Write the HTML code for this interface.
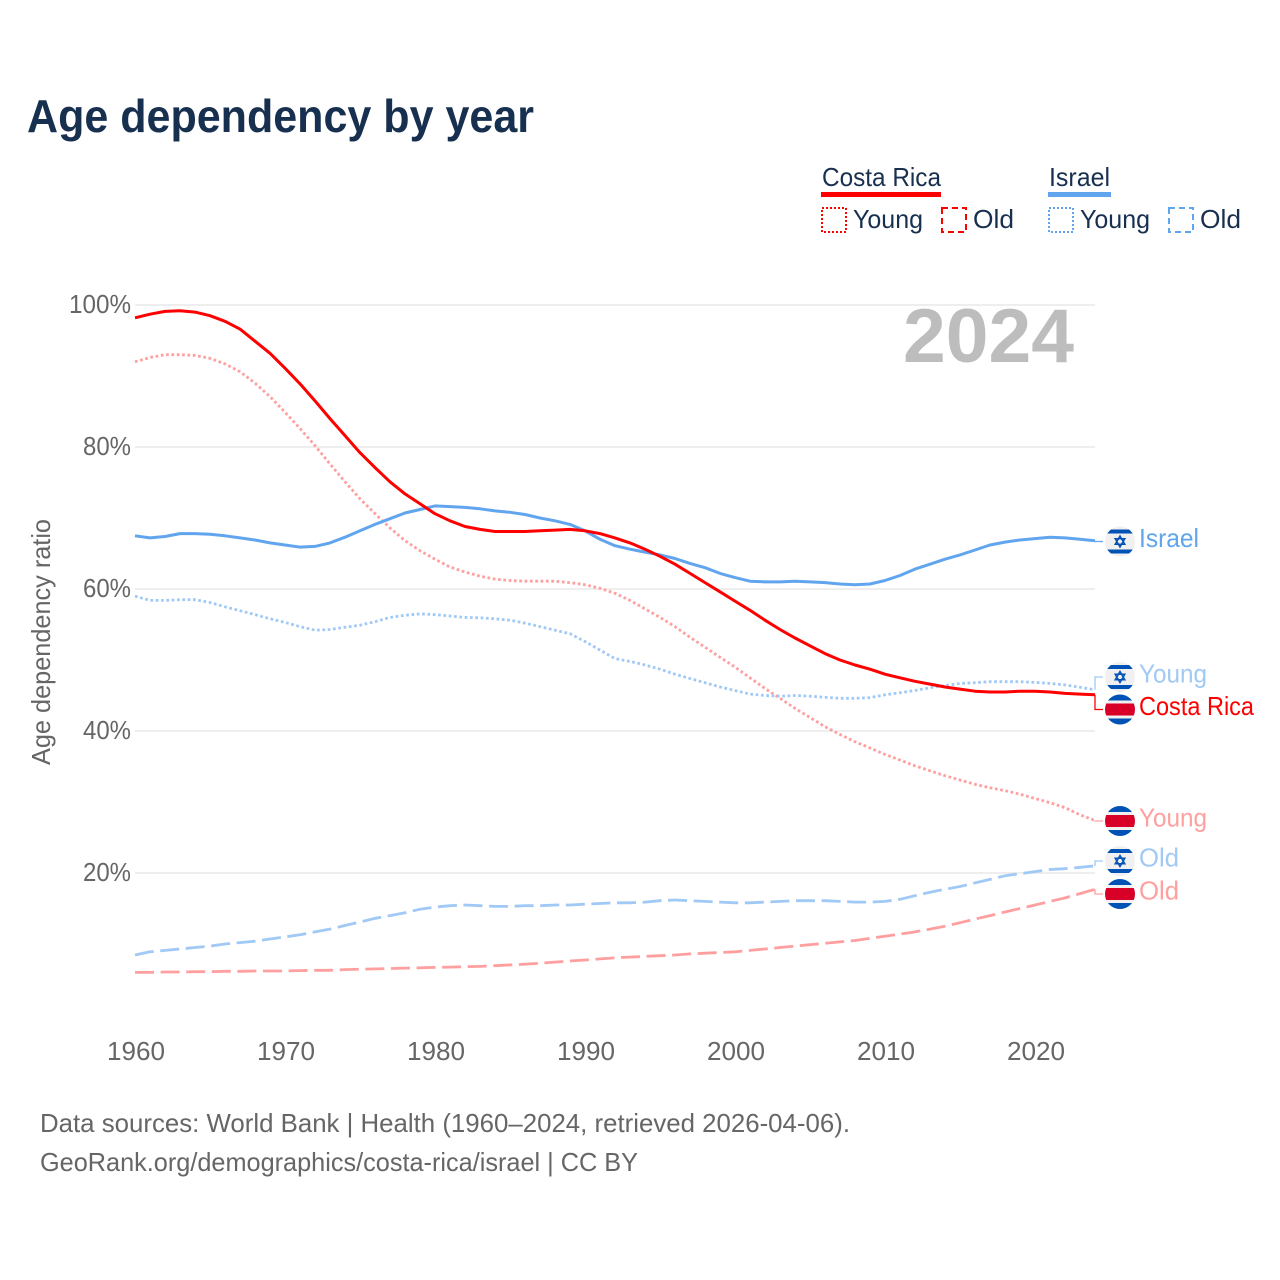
<!DOCTYPE html>
<html>
<head>
<meta charset="utf-8">
<title>Age dependency by year</title>
<style>
html,body{margin:0;padding:0;background:#fff;}
svg{display:block;}
text{font-family:"Liberation Sans",sans-serif;}
</style>
</head>
<body>
<svg id="chart" xmlns="http://www.w3.org/2000/svg" width="1280" height="1280" viewBox="0 0 1280 1280">
  <defs>
    <clipPath id="flag-clip"><circle cx="0" cy="0" r="15"/></clipPath>
  </defs>
  <rect x="0" y="0" width="1280" height="1280" fill="#fff"/>
  <text x="27" y="132" font-size="46" font-weight="700" fill="#18304f" textLength="507" lengthAdjust="spacingAndGlyphs">Age dependency by year</text>

  <g font-size="26" fill="#18304f">
    <text x="822" y="186" textLength="119" lengthAdjust="spacingAndGlyphs">Costa Rica</text>
    <rect x="821" y="192" width="120" height="5" fill="#ff0000"/>
    <rect x="822" y="208" width="24" height="24" fill="none" stroke="#ff0000" stroke-width="2" stroke-dasharray="2 2"/>
    <text x="853" y="228" textLength="70" lengthAdjust="spacingAndGlyphs">Young</text>
    <rect x="942" y="208" width="24" height="24" fill="none" stroke="#ff0000" stroke-width="2" stroke-dasharray="6 4"/>
    <text x="973" y="228" textLength="41" lengthAdjust="spacingAndGlyphs">Old</text>
    <text x="1049" y="186" textLength="61" lengthAdjust="spacingAndGlyphs">Israel</text>
    <rect x="1048" y="192" width="63" height="5" fill="#60a5ee"/>
    <rect x="1049" y="208" width="24" height="24" fill="none" stroke="#60a5ee" stroke-width="2" stroke-dasharray="2 2"/>
    <text x="1080" y="228" textLength="70" lengthAdjust="spacingAndGlyphs">Young</text>
    <rect x="1169" y="208" width="24" height="24" fill="none" stroke="#60a5ee" stroke-width="2" stroke-dasharray="6 4"/>
    <text x="1200" y="228" textLength="41" lengthAdjust="spacingAndGlyphs">Old</text>
  </g>

  <g id="grid"></g>
  <g id="yticks"></g>
  <g id="xticks"></g>

  <text x="903" y="362" font-size="76" font-weight="700" fill="#bdbdbd" textLength="171" lengthAdjust="spacingAndGlyphs">2024</text>
  <text transform="translate(50 642) rotate(-90)" text-anchor="middle" font-size="26" fill="#666666" textLength="246" lengthAdjust="spacingAndGlyphs">Age dependency ratio</text>

  <g id="series"></g>
  <g id="endmarks"></g>

  <text x="40" y="1132" font-size="26" fill="#666666" textLength="810" lengthAdjust="spacingAndGlyphs">Data sources: World Bank | Health (1960–2024, retrieved 2026-04-06).</text>
  <text x="40" y="1171" font-size="26" fill="#666666" textLength="598" lengthAdjust="spacingAndGlyphs">GeoRank.org/demographics/costa-rica/israel | CC BY</text>
</svg>
<script>
const startYear = 1960;
const yTickValues = [100, 80, 60, 40, 20];
const yTickLabels = ["100%", "80%", "60%", "40%", "20%"];
const xTickYears = [1960, 1970, 1980, 1990, 2000, 2010, 2020];

const costaRicaTotal = [98.2,98.7,99.1,99.2,99.0,98.5,97.7,96.6,94.9,93.2,91.1,88.9,86.5,84.0,81.6,79.2,77.1,75.1,73.4,72.0,70.6,69.6,68.8,68.4,68.1,68.1,68.1,68.2,68.3,68.4,68.2,67.8,67.2,66.5,65.6,64.6,63.5,62.2,60.9,59.6,58.3,57.0,55.6,54.3,53.1,52.0,50.9,50.0,49.3,48.7,48.0,47.5,47.0,46.6,46.2,45.9,45.6,45.5,45.5,45.6,45.6,45.5,45.3,45.2,45.1];
const costaRicaYoung = [92.0,92.6,93.0,93.0,92.9,92.5,91.7,90.6,89.0,87.1,84.9,82.6,80.2,77.6,75.1,72.7,70.6,68.6,66.8,65.4,64.2,63.1,62.4,61.8,61.4,61.2,61.1,61.1,61.1,60.9,60.6,60.1,59.4,58.4,57.2,56.0,54.7,53.2,51.8,50.4,49.0,47.5,46.0,44.6,43.2,41.9,40.6,39.5,38.5,37.6,36.7,35.9,35.1,34.4,33.7,33.1,32.5,32.0,31.6,31.1,30.5,29.9,29.2,28.2,27.4];
const costaRicaOld = [6.0,6.0,6.05,6.05,6.1,6.1,6.15,6.15,6.2,6.2,6.2,6.25,6.3,6.3,6.4,6.45,6.5,6.55,6.6,6.65,6.7,6.75,6.8,6.85,6.95,7.05,7.15,7.3,7.45,7.6,7.75,7.9,8.05,8.15,8.25,8.35,8.45,8.6,8.7,8.8,8.9,9.1,9.3,9.5,9.7,9.9,10.1,10.3,10.5,10.8,11.1,11.4,11.7,12.1,12.5,13.0,13.5,14.0,14.5,15.0,15.5,16.0,16.5,17.1,17.7];
const israelTotal = [67.5,67.2,67.4,67.8,67.8,67.7,67.5,67.2,66.9,66.5,66.2,65.9,66.0,66.5,67.3,68.2,69.1,69.9,70.7,71.2,71.7,71.6,71.5,71.3,71.0,70.8,70.5,70.0,69.6,69.1,68.2,67.0,66.1,65.6,65.2,64.8,64.3,63.6,63.0,62.2,61.6,61.1,61.0,61.0,61.1,61.0,60.9,60.7,60.6,60.7,61.2,61.9,62.8,63.5,64.2,64.8,65.5,66.2,66.6,66.9,67.1,67.3,67.2,67.0,66.8];
const israelYoung = [59.0,58.4,58.4,58.5,58.5,58.1,57.5,56.95,56.4,55.8,55.3,54.7,54.2,54.3,54.6,54.9,55.4,56.0,56.3,56.5,56.4,56.2,56.0,55.95,55.8,55.6,55.2,54.7,54.2,53.7,52.6,51.4,50.2,49.8,49.3,48.7,48.0,47.4,46.8,46.2,45.7,45.2,45.0,44.9,45.0,44.9,44.75,44.6,44.6,44.7,45.1,45.4,45.7,46.1,46.4,46.7,46.8,46.95,46.95,46.95,46.85,46.7,46.5,46.15,45.8];
const israelOld = [8.45,8.9,9.1,9.3,9.5,9.7,10.0,10.2,10.4,10.7,11.0,11.3,11.7,12.1,12.6,13.1,13.6,14.0,14.4,14.9,15.2,15.4,15.5,15.4,15.3,15.3,15.4,15.4,15.5,15.5,15.6,15.7,15.8,15.8,15.9,16.1,16.2,16.1,16.0,15.9,15.8,15.8,15.9,16.0,16.1,16.1,16.1,16.0,15.9,15.9,16.0,16.3,16.8,17.3,17.7,18.1,18.6,19.1,19.6,19.9,20.2,20.5,20.6,20.8,21.0];

const NS = "http://www.w3.org/2000/svg";
function xScale(year) { return 135 + (year - startYear) * 15; }
function yScale(v) { return 1015 - v * 7.1; }
function make(tag, attrs, parent) {
  const el = document.createElementNS(NS, tag);
  for (const k in attrs) el.setAttribute(k, attrs[k]);
  parent.appendChild(el);
  return el;
}

const gridG = document.getElementById("grid");
const yG = document.getElementById("yticks");
yTickValues.forEach(function (v, i) {
  const line = make("line", {x1: 135, x2: 1095, y1: yScale(v), y2: yScale(v), stroke: "#e8e8e8", "stroke-width": 1.5}, gridG);
  
  
  const t = make("text", {x: 131, y: yScale(v) + 8, "text-anchor": "end", "font-size": 26, fill: "#666666", textLength: yTickLabels[i].length === 4 ? 62 : 48, lengthAdjust: "spacingAndGlyphs"}, yG);
  t.textContent = yTickLabels[i];
  
  
});

const xG = document.getElementById("xticks");
xTickYears.forEach(function (yr) {
  const t = make("text", {x: xScale(yr) + 1, y: 1060, "text-anchor": "middle", "font-size": 26, fill: "#666666", textLength: 58, lengthAdjust: "spacingAndGlyphs"}, xG);
  t.textContent = String(yr);
  
  
});

const seriesG = document.getElementById("series");
function drawLine(values, color, width, dash) {
  const pts = values.map(function (v, i) { return xScale(startYear + i).toFixed(1) + "," + yScale(v).toFixed(1); }).join(" ");
  const attrs = {points: pts, fill: "none", stroke: color, "stroke-width": width, "stroke-linejoin": "round"};
  if (dash) attrs["stroke-dasharray"] = dash;
  return make("polyline", attrs, seriesG);
}
const dotted = "2.7 2.63";
const dashed = "19 6.6";
const lineA = drawLine(israelOld, "#a0c9f5", 2.8, dashed);


const lineB = drawLine(costaRicaOld, "#ff9f9f", 2.8, dashed);


const lineC = drawLine(costaRicaYoung, "#ff9f9f", 2.8, dotted);


const lineD = drawLine(israelYoung, "#a0c9f5", 2.8, dotted);


const lineE = drawLine(israelTotal, "#60a5ee", 3, null);


const lineF = drawLine(costaRicaTotal, "#ff0000", 3, null);



const endG = document.getElementById("endmarks");
function drawFlag(kind, cy) {
  const g = make("g", {transform: "translate(1120 " + cy + ")", "clip-path": "url(#flag-clip)"}, endG);
  make("rect", {x: -15, y: -15, width: 30, height: 30, fill: "#f0f0f0"}, g);
  if (kind === "il") {
    make("rect", {x: -15, y: -12, width: 30, height: 4, fill: "#0052b4"}, g);
    make("rect", {x: -15, y: 8, width: 30, height: 4, fill: "#0052b4"}, g);
    make("path", {d: "M0 -5.5L4.8 2.8H-4.8ZM0 5.5L-4.8 -2.8H4.8Z", fill: "none", stroke: "#0052b4", "stroke-width": 1.5}, g);
  } else {
    make("rect", {x: -15, y: -15, width: 30, height: 6, fill: "#0052b4"}, g);
    make("rect", {x: -15, y: 9, width: 30, height: 6, fill: "#0052b4"}, g);
    make("rect", {x: -15, y: -6, width: 30, height: 12, fill: "#d80027"}, g);
  }
  return g;
}
function drawConnector(endValue, cy, color) {
  const y0 = yScale(endValue);
  return make("polyline", {points: "1095," + y0.toFixed(1) + " 1095," + cy + " 1103," + cy, fill: "none", stroke: color, "stroke-width": 1.3}, endG);
}
function drawEndLabel(text, cy, color, width) {
  const t = make("text", {x: 1139, y: cy + 5.5, "font-size": 26, fill: color, textLength: width, lengthAdjust: "spacingAndGlyphs"}, endG);
  t.textContent = text;
  return t;
}

const c1 = drawConnector(israelTotal[64], 541.5, "#60a5ee");


const f1 = drawFlag("il", 541.5);


const l1 = drawEndLabel("Israel", 541.5, "#60a5ee", 60);



const c2 = drawConnector(israelYoung[64], 677, "#a0c9f5");


const f2 = drawFlag("il", 677);


const l2 = drawEndLabel("Young", 677, "#a0c9f5", 68);



const c3 = drawConnector(costaRicaTotal[64], 709.5, "#ff0000");


const f3 = drawFlag("cr", 709.5);


const l3 = drawEndLabel("Costa Rica", 709.5, "#ff0000", 115);



const c4 = drawConnector(costaRicaYoung[64], 821, "#ff9f9f");


const f4 = drawFlag("cr", 821);


const l4 = drawEndLabel("Young", 821, "#ff9f9f", 68);



const c5 = drawConnector(israelOld[64], 861, "#a0c9f5");


const f5 = drawFlag("il", 861);


const l5 = drawEndLabel("Old", 861, "#a0c9f5", 40);



const c6 = drawConnector(costaRicaOld[64], 894, "#ff9f9f");


const f6 = drawFlag("cr", 894);


const l6 = drawEndLabel("Old", 894, "#ff9f9f", 40);


</script>
</body>
</html>
